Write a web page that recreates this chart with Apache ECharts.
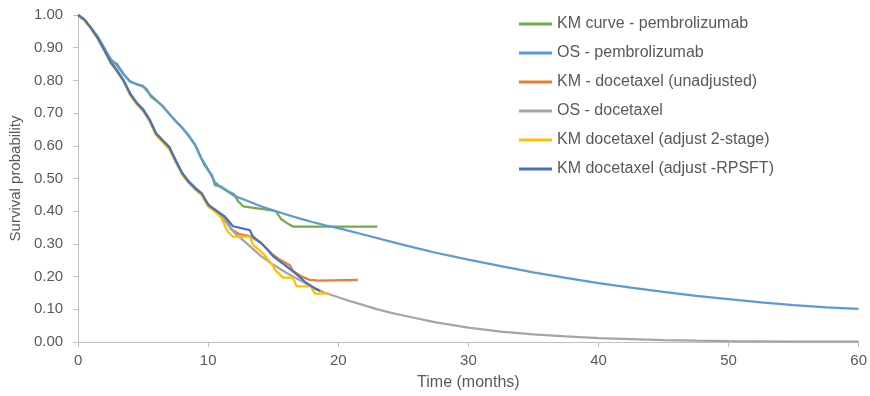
<!DOCTYPE html>
<html>
<head>
<meta charset="utf-8">
<script src="https://cdn.jsdelivr.net/npm/echarts@6/dist/echarts.min.js"></script>
<style>
  html, body { margin: 0; padding: 0; background: #ffffff; }
  #chart { width: 870px; height: 396px; }
</style>
</head>
<body>
<div id="chart"></div>
<script>
// Survival curves: [time in months, survival probability]
const kmPembrolizumab = [
  [0, 1.0], [0.5, 0.985], [1, 0.96], [1.5, 0.935], [2, 0.9], [2.5, 0.862], [3, 0.85],
  [3.5, 0.82], [4, 0.796], [4.5, 0.788], [5, 0.783], [5.3, 0.772], [5.6, 0.75],
  [6, 0.738], [6.5, 0.722], [7, 0.698], [7.5, 0.675], [8, 0.655], [8.5, 0.632],
  [9, 0.602], [9.3, 0.575], [9.7, 0.542], [10, 0.525], [10.3, 0.51], [10.5, 0.48],
  [11, 0.475], [11.5, 0.462], [12, 0.452], [12.3, 0.43], [12.7, 0.415], [13.5, 0.41],
  [14.5, 0.405], [15.2, 0.4], [15.6, 0.376], [16, 0.365], [16.5, 0.353], [23, 0.353]
];
const osPembrolizumab = [
  [0, 1.0], [0.5, 0.985], [1, 0.96], [1.5, 0.933], [2, 0.9], [2.5, 0.866], [3, 0.845],
  [3.5, 0.818], [4, 0.797], [4.5, 0.789], [5, 0.781], [5.5, 0.758], [6, 0.74],
  [6.5, 0.72], [7, 0.698], [7.5, 0.676], [8, 0.655], [8.5, 0.63], [9, 0.603],
  [9.5, 0.56], [10, 0.527], [10.5, 0.49], [11, 0.472], [11.5, 0.46], [12, 0.447],
  [13, 0.432], [14, 0.416], [15, 0.403], [16, 0.39], [17, 0.378], [18, 0.367],
  [19, 0.357], [20, 0.348], [22, 0.328], [25, 0.297], [27.5, 0.273], [30, 0.252],
  [32.5, 0.232], [35, 0.213], [37.5, 0.196], [40, 0.18], [42.5, 0.166], [45, 0.153],
  [47.5, 0.141], [50, 0.131], [52.5, 0.121], [55, 0.113], [57.5, 0.106], [60, 0.101]
];
const kmDocetaxelUnadjusted = [
  [0, 1.0], [0.5, 0.985], [1, 0.96], [1.5, 0.93], [2, 0.895], [2.5, 0.857], [3, 0.83],
  [3.5, 0.8], [4, 0.76], [4.5, 0.732], [5, 0.712], [5.5, 0.68], [6, 0.638],
  [6.5, 0.617], [7, 0.597], [7.5, 0.556], [8, 0.517], [8.5, 0.492], [9, 0.472],
  [9.5, 0.455], [10, 0.42], [10.5, 0.406], [11, 0.39], [11.5, 0.368], [11.7, 0.347],
  [12.4, 0.33], [13.2, 0.324], [14.1, 0.302], [14.5, 0.285], [15, 0.266],
  [15.5, 0.252], [16.3, 0.234], [16.5, 0.218], [17.2, 0.2], [17.8, 0.19],
  [18.5, 0.188], [21.5, 0.19]
];
const osDocetaxel = [
  [0, 1.0], [0.5, 0.985], [1, 0.96], [1.5, 0.93], [2, 0.895], [2.5, 0.857], [3, 0.83],
  [3.5, 0.8], [4, 0.76], [4.5, 0.732], [5, 0.71], [5.5, 0.68], [6, 0.637],
  [6.5, 0.616], [7, 0.596], [7.5, 0.555], [8, 0.516], [8.5, 0.49], [9, 0.47],
  [9.5, 0.453], [10, 0.418], [10.5, 0.403], [11, 0.385], [11.5, 0.36], [12, 0.335],
  [13, 0.3], [14, 0.265], [15, 0.236], [16, 0.212], [17, 0.19], [18, 0.168],
  [19, 0.15], [20, 0.137], [21, 0.124], [22, 0.112], [23, 0.1], [24, 0.09],
  [25, 0.081], [27.5, 0.06], [30, 0.044], [32.5, 0.032], [35, 0.023], [37.5, 0.017],
  [40, 0.012], [42.5, 0.009], [45, 0.006], [47.5, 0.004], [50, 0.003], [55, 0.0015],
  [60, 0.001]
];
const kmDocetaxelTwoStage = [
  [0, 1.0], [0.5, 0.983], [1, 0.958], [1.5, 0.928], [2, 0.892], [2.5, 0.853], [3, 0.826],
  [3.5, 0.796], [4, 0.755], [4.5, 0.727], [5, 0.706], [5.5, 0.674], [6, 0.632],
  [6.5, 0.611], [7, 0.59], [7.5, 0.55], [8, 0.512], [8.5, 0.486], [9, 0.466],
  [9.5, 0.449], [10, 0.414], [10.5, 0.4], [11, 0.38], [11.5, 0.337], [11.9, 0.322],
  [13.2, 0.322], [13.45, 0.297], [14.2, 0.272], [15, 0.232], [15.1, 0.222],
  [15.75, 0.197], [16.5, 0.197], [16.8, 0.17], [17.9, 0.17], [18.2, 0.148],
  [19.3, 0.148]
];
const kmDocetaxelRpsft = [
  [0, 1.0], [0.5, 0.985], [1, 0.96], [1.5, 0.93], [2, 0.894], [2.5, 0.856], [3, 0.829],
  [3.5, 0.799], [4, 0.759], [4.5, 0.731], [5, 0.71], [5.5, 0.679], [6, 0.637],
  [6.5, 0.616], [7, 0.596], [7.5, 0.555], [8, 0.516], [8.5, 0.49], [9, 0.47],
  [9.5, 0.454], [10, 0.42], [10.3, 0.41], [11.3, 0.383], [11.9, 0.354],
  [13.2, 0.342], [13.45, 0.322], [14, 0.305], [14.5, 0.285], [15, 0.262],
  [16, 0.232], [16.8, 0.207], [17.5, 0.182], [18.2, 0.164], [18.6, 0.156]
];

const seriesNames = [
  'KM curve - pembrolizumab',
  'OS - pembrolizumab',
  'KM - docetaxel (unadjusted)',
  'OS - docetaxel',
  'KM docetaxel (adjust 2-stage)',
  'KM docetaxel (adjust -RPSFT)'
];
const seriesData = [
  kmPembrolizumab, osPembrolizumab, kmDocetaxelUnadjusted,
  osDocetaxel, kmDocetaxelTwoStage, kmDocetaxelRpsft
];
const seriesColors = ['#70AD47', '#5B9BD5', '#ED7D31', '#A5A5A5', '#FFC000', '#4472C4'];

const xTicks = [0, 10, 20, 30, 40, 50, 60];

const textColor = '#595959';
const axisColor = '#BFBFBF';
const fontFamily = '"Liberation Sans", Arial, sans-serif';

const chart = echarts.init(document.getElementById('chart'), null, { renderer: 'canvas' });

chart.setOption({
  animation: false,
  backgroundColor: '#ffffff',
  grid: { left: 78, right: 10, top: 15, bottom: 49, containLabel: false },
  legend: {
    orient: 'vertical',
    left: 514,
    top: 9,
    itemWidth: 33,
    itemHeight: 3,
    itemGap: 9,
    icon: 'rect',
    data: seriesNames,
    textStyle: { color: textColor, fontSize: 16, fontFamily: fontFamily, lineHeight: 20 }
  },
  xAxis: {
    type: 'value',
    min: xTicks[0],
    max: xTicks[xTicks.length - 1],
    interval: 10,
    name: 'Time (months)',
    nameLocation: 'middle',
    nameGap: 33,
    nameTextStyle: { color: textColor, fontSize: 16, fontFamily: fontFamily },
    axisLine: { lineStyle: { color: axisColor, width: 1 } },
    axisTick: { show: true, length: 5, lineStyle: { color: axisColor } },
    axisLabel: { color: textColor, fontSize: 15, fontFamily: fontFamily, margin: 11 },
    splitLine: { show: false }
  },
  yAxis: {
    type: 'value',
    min: 0,
    max: 1,
    interval: 0.1,
    name: 'Survival probability',
    nameLocation: 'middle',
    nameGap: 53,
    nameTextStyle: { color: textColor, fontSize: 15, fontFamily: fontFamily },
    axisLine: { show: true, lineStyle: { color: axisColor, width: 1 } },
    axisTick: { show: true, length: 5, lineStyle: { color: axisColor } },
    axisLabel: {
      color: textColor, fontSize: 15, fontFamily: fontFamily, margin: 15,
      formatter: v => v.toFixed(2)
    },
    splitLine: { show: false }
  },
  series: seriesNames.map((name, i) => ({
    name: name,
    type: 'line',
    data: seriesData[i],
    showSymbol: false,
    symbol: 'none',
    smooth: false,
    color: seriesColors[i],
    lineStyle: { color: seriesColors[i], width: 2.25 },
    z: 2 + i
  }))
});
</script>
</body>
</html>
